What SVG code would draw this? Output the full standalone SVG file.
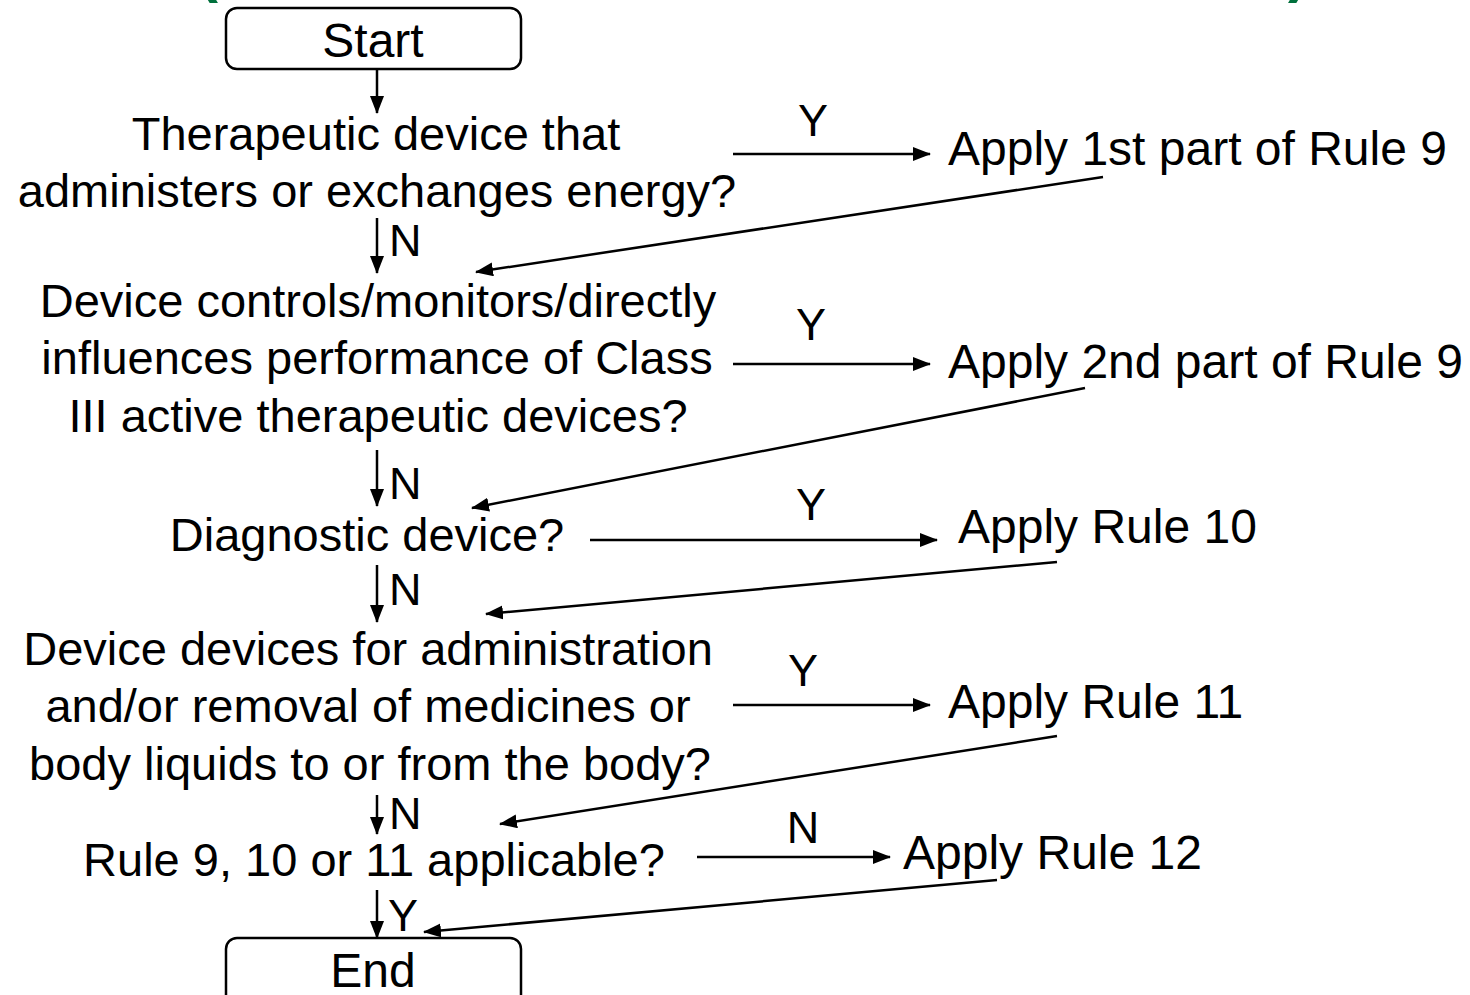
<svg xmlns="http://www.w3.org/2000/svg" width="1470" height="995" viewBox="0 0 1470 995">
  <style>
    .t { font-family: "Liberation Sans", Arial, sans-serif; font-size: 48px; fill: #000; }
    .q { font-size: 47px; }
    .lbl { font-family: "Liberation Sans", Arial, sans-serif; font-size: 45px; fill: #000; }
    .mid { text-anchor: middle; }
    .box { fill: #fff; stroke: #000; stroke-width: 2.5; }
    .ln { stroke: #000; stroke-width: 2.5; fill: none; }
    .paren { font-family: "Liberation Sans", Arial, sans-serif; font-weight: bold; font-size: 60px; fill: #00703c; }
  </style>
  <defs>
    <marker id="arr" markerUnits="userSpaceOnUse" markerWidth="20" markerHeight="16" refX="17" refY="7" orient="auto">
      <path d="M0,0 L18,7 L0,14 Z" fill="#000"/>
    </marker>
  </defs>
  <rect width="1470" height="995" fill="#fff"/>

  <!-- title brackets running off the top edge -->
  <text class="paren" x="198" y="-9">(</text>
  <text class="paren" x="1288" y="-9">)</text>

  <g id="start">
    <rect class="box" x="226" y="8" width="295" height="61" rx="11"/>
    <text class="t mid" x="373" y="57">Start</text>
  </g>

  <g id="q1">
    <text class="t q mid" x="376" y="150">Therapeutic device that</text>
    <text class="t q mid" x="377" y="207">administers or exchanges energy?</text>
  </g>
  <g id="r1">
    <text class="t" x="948" y="165">Apply 1st part of Rule 9</text>
  </g>

  <g id="q2">
    <text class="t q mid" x="378" y="317">Device controls/monitors/directly</text>
    <text class="t q mid" x="377" y="374">influences performance of Class</text>
    <text class="t q mid" x="378" y="432">III active therapeutic devices?</text>
  </g>
  <g id="r2">
    <text class="t" x="948" y="378">Apply 2nd part of Rule 9</text>
  </g>

  <g id="q3">
    <text class="t q mid" x="367" y="551">Diagnostic device?</text>
  </g>
  <g id="r3">
    <text class="t" x="958" y="543">Apply Rule 10</text>
  </g>

  <g id="q4">
    <text class="t q mid" x="368" y="665">Device devices for administration</text>
    <text class="t q mid" x="368" y="722">and/or removal of medicines or</text>
    <text class="t q mid" x="370" y="780">body liquids to or from the body?</text>
  </g>
  <g id="r4">
    <text class="t" x="948" y="718">Apply Rule 11</text>
  </g>

  <g id="q5">
    <text class="t q mid" x="374" y="876">Rule 9, 10 or 11 applicable?</text>
  </g>
  <g id="r5">
    <text class="t" x="903" y="869">Apply Rule 12</text>
  </g>

  <g id="end">
    <rect class="box" x="226" y="938" width="295" height="70" rx="11"/>
    <text class="t mid" x="373" y="987">End</text>
  </g>

  <g id="connectors">
    <!-- main vertical flow -->
    <line class="ln" x1="377" y1="69" x2="377" y2="113" marker-end="url(#arr)"/>
    <line class="ln" x1="377" y1="218" x2="377" y2="273" marker-end="url(#arr)"/>
    <line class="ln" x1="377" y1="450" x2="377" y2="506" marker-end="url(#arr)"/>
    <line class="ln" x1="377" y1="565" x2="377" y2="622" marker-end="url(#arr)"/>
    <line class="ln" x1="377" y1="795" x2="377" y2="834" marker-end="url(#arr)"/>
    <line class="ln" x1="377" y1="890" x2="377" y2="938" marker-end="url(#arr)"/>

    <!-- branches to the rules -->
    <line class="ln" x1="733" y1="154" x2="930" y2="154" marker-end="url(#arr)"/>
    <line class="ln" x1="733" y1="364" x2="930" y2="364" marker-end="url(#arr)"/>
    <line class="ln" x1="590" y1="540" x2="937" y2="540" marker-end="url(#arr)"/>
    <line class="ln" x1="733" y1="705" x2="930" y2="705" marker-end="url(#arr)"/>
    <line class="ln" x1="697" y1="857" x2="890" y2="857" marker-end="url(#arr)"/>

    <!-- returns from the rules -->
    <line class="ln" x1="1103" y1="177" x2="476" y2="272" marker-end="url(#arr)"/>
    <line class="ln" x1="1085" y1="388" x2="472" y2="508" marker-end="url(#arr)"/>
    <line class="ln" x1="1057" y1="562" x2="486" y2="614" marker-end="url(#arr)"/>
    <line class="ln" x1="1057" y1="736" x2="500" y2="824" marker-end="url(#arr)"/>
    <line class="ln" x1="997" y1="880" x2="424" y2="932" marker-end="url(#arr)"/>

    <!-- branch labels -->
    <text class="lbl" x="389" y="256">N</text>
    <text class="lbl" x="389" y="499">N</text>
    <text class="lbl" x="389" y="605">N</text>
    <text class="lbl" x="389" y="829">N</text>
    <text class="lbl" x="388" y="931">Y</text>
    <text class="lbl mid" x="813" y="136">Y</text>
    <text class="lbl mid" x="811" y="340">Y</text>
    <text class="lbl mid" x="811" y="520">Y</text>
    <text class="lbl mid" x="803" y="686">Y</text>
    <text class="lbl mid" x="803" y="843">N</text>
  </g>
</svg>
